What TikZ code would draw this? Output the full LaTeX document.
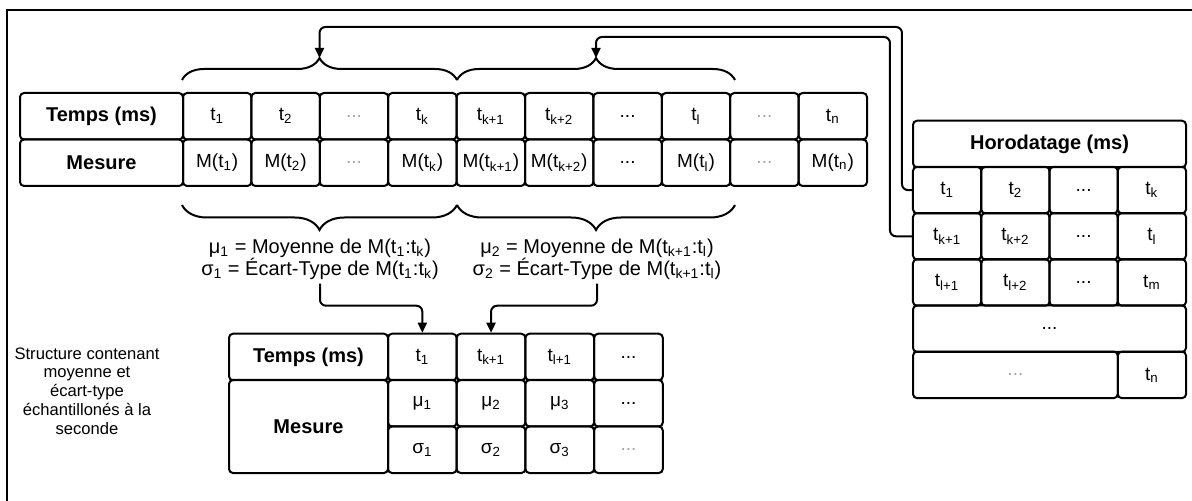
\documentclass[tikz,border=0pt]{standalone}
\usepackage{fontspec}
\setmainfont{Liberation Sans}
\usepackage{tikz}
\usetikzlibrary{arrows.meta,decorations.pathreplacing}
\tikzset{
  tbhead/.style={draw, line width=1pt, rounded corners=2pt, inner sep=0pt, minimum height=23.25pt, font=\fontsize{10}{12}\selectfont\bfseries},
  tbcell/.style={draw, line width=1pt, rounded corners=2pt, inner sep=0pt, minimum width=34.2pt, minimum height=23.25pt, font=\fontsize{9.5}{11}\selectfont},
  tbgrey/.style={text=black!35},
  tbbrace/.style={decorate, decoration={brace, amplitude=#1}, line width=1pt},
  tblink/.style={line width=1pt, rounded corners=3pt, -{Triangle[length=5pt,width=4.5pt]}},
  tbframe/.style={line width=1.2pt},
  tblabel/.style={align=center, inner sep=2pt, font=\fontsize{10}{11}\selectfont},
  tbnote/.style={align=center, font=\fontsize{8.3}{9.4}\selectfont},
}
\begin{document}
\begin{tikzpicture}[x=0.5pt,y=-0.5pt]
\useasboundingbox (0,0) rectangle (1192,501);
\draw[tbframe] (7,505) -- (7,10) -- (1196,10);
% mesures
\node[tbhead, minimum width=81.5pt] (temps) at (101.5,116.25) {Temps (ms)};
\node[tbhead, minimum width=81.5pt] (mesure) at (101.5,162.75) {Mesure};
\node[tbcell] (ta1) at (217.2,116.25) {t\textsubscript{1}};
\node[tbcell] (ta2) at (285.6,116.25) {t\textsubscript{2}};
\node[tbcell, tbgrey] (ta3) at (354.0,116.25) {...};
\node[tbcell] (ta4) at (422.4,116.25) {t\textsubscript{k}};
\node[tbcell] (ta5) at (490.8,116.25) {t\textsubscript{k+1}};
\node[tbcell] (ta6) at (559.2,116.25) {t\textsubscript{k+2}};
\node[tbcell] (ta7) at (627.6,116.25) {...};
\node[tbcell] (ta8) at (696.0,116.25) {t\textsubscript{l}};
\node[tbcell, tbgrey] (ta9) at (764.4,116.25) {...};
\node[tbcell] (ta10) at (832.8,116.25) {t\textsubscript{n}};
\node[tbcell] (ma1) at (217.2,162.75) {M(t\textsubscript{1})};
\node[tbcell] (ma2) at (285.6,162.75) {M(t\textsubscript{2})};
\node[tbcell, tbgrey] (ma3) at (354.0,162.75) {...};
\node[tbcell] (ma4) at (422.4,162.75) {M(t\textsubscript{k})};
\node[tbcell] (ma5) at (490.8,162.75) {M(t\textsubscript{k+1})};
\node[tbcell] (ma6) at (559.2,162.75) {M(t\textsubscript{k+2})};
\node[tbcell] (ma7) at (627.6,162.75) {...};
\node[tbcell] (ma8) at (696.0,162.75) {M(t\textsubscript{l})};
\node[tbcell, tbgrey] (ma9) at (764.4,162.75) {...};
\node[tbcell] (ma10) at (832.8,162.75) {M(t\textsubscript{n})};
% accolades
\draw[tbbrace=11pt] (182,80) -- (457,80);
\draw[tbbrace=11pt] (457,80) -- (735,80);
\draw[tbbrace=12.5pt] (457,205) -- (182,205);
\draw[tbbrace=12.5pt] (735,205) -- (457,205);
\coordinate (cusp1) at (319.5,58);
\coordinate (cusp2) at (596,58);
\node[tblabel] (lab1) at (320,259) {μ\textsubscript{1} = Moyenne de M(t\textsubscript{1}:t\textsubscript{k})\\σ\textsubscript{1} = Écart-Type de M(t\textsubscript{1}:t\textsubscript{k})};
\node[tblabel] (lab2) at (597,259) {μ\textsubscript{2} = Moyenne de M(t\textsubscript{k+1}:t\textsubscript{l})\\σ\textsubscript{2} = Écart-Type de M(t\textsubscript{k+1}:t\textsubscript{l})};
% horodatage
\node[tbhead, minimum width=136.5pt] (hhead) at (1049.5,144) {Horodatage (ms)};
\node[tbcell, minimum width=34.125pt] (h11) at (947.1,190.1) {t\textsubscript{1}};
\node[tbcell, minimum width=34.125pt] (h12) at (1015.4,190.1) {t\textsubscript{2}};
\node[tbcell, minimum width=34.125pt] (h13) at (1083.6,190.1) {...};
\node[tbcell, minimum width=34.125pt] (h14) at (1151.9,190.1) {t\textsubscript{k}};
\node[tbcell, minimum width=34.125pt] (h21) at (947.1,236.3) {t\textsubscript{k+1}};
\node[tbcell, minimum width=34.125pt] (h22) at (1015.4,236.3) {t\textsubscript{k+2}};
\node[tbcell, minimum width=34.125pt] (h23) at (1083.6,236.3) {...};
\node[tbcell, minimum width=34.125pt] (h24) at (1151.9,236.3) {t\textsubscript{l}};
\node[tbcell, minimum width=34.125pt] (h31) at (947.1,282.5) {t\textsubscript{l+1}};
\node[tbcell, minimum width=34.125pt] (h32) at (1015.4,282.5) {t\textsubscript{l+2}};
\node[tbcell, minimum width=34.125pt] (h33) at (1083.6,282.5) {...};
\node[tbcell, minimum width=34.125pt] (h34) at (1151.9,282.5) {t\textsubscript{m}};
\node[tbcell, minimum width=136.5pt] (h4) at (1049.5,328.7) {...};
\node[tbcell, tbgrey, minimum width=102.4pt] (h51) at (1015.4,374.9) {...};
\node[tbcell, minimum width=34.125pt] (h52) at (1151.9,374.9) {t\textsubscript{n}};
\draw[tblink] (h11.west) -- ++(-10,0) -- ++(0,-163.1) -| (cusp1);
\draw[tblink] (h21.west) -- ++(-22,0) -- ++(0,-199.3) -| (cusp2);
% structure par seconde
\node[tbnote] (desc) at (87,391) {Structure contenant\\moyenne et\\écart-type\\échantillonés à la\\seconde};
\node[tbhead, minimum width=79.5pt] (btemps) at (308.5,357) {Temps (ms)};
\node[tbhead, minimum width=79.5pt, minimum height=46.5pt] (bmes) at (308.5,426.5) {Mesure};
\node[tbcell, minimum width=34.35pt] (b11) at (422.35,357) {t\textsubscript{1}};
\node[tbcell, minimum width=34.35pt] (b12) at (491.05,357) {t\textsubscript{k+1}};
\node[tbcell, minimum width=34.35pt] (b13) at (559.75,357) {t\textsubscript{l+1}};
\node[tbcell, minimum width=34.35pt] (b14) at (628.45,357) {...};
\node[tbcell, minimum width=34.35pt] (b21) at (422.35,403.25) {μ\textsubscript{1}};
\node[tbcell, minimum width=34.35pt] (b22) at (491.05,403.25) {μ\textsubscript{2}};
\node[tbcell, minimum width=34.35pt] (b23) at (559.75,403.25) {μ\textsubscript{3}};
\node[tbcell, minimum width=34.35pt] (b24) at (628.45,403.25) {...};
\node[tbcell, minimum width=34.35pt] (b31) at (422.35,449.75) {σ\textsubscript{1}};
\node[tbcell, minimum width=34.35pt] (b32) at (491.05,449.75) {σ\textsubscript{2}};
\node[tbcell, minimum width=34.35pt] (b33) at (559.75,449.75) {σ\textsubscript{3}};
\node[tbcell, tbgrey, minimum width=34.35pt] (b34) at (628.45,449.75) {...};
\draw[tblink] (lab1.south) -- ++(0,22) -| (b11.north);
\draw[tblink] (lab2.south) -- ++(0,22) -| (b12.north);
\end{tikzpicture}
\end{document}
